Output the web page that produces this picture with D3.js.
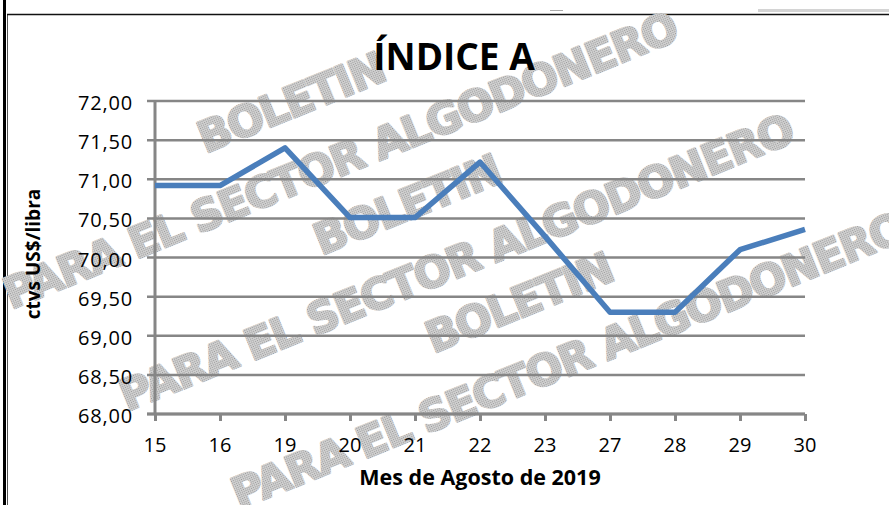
<!DOCTYPE html>
<html>
<head>
<meta charset="utf-8">
<script src="https://cdn.jsdelivr.net/npm/d3@7"></script>
<style>
  body { margin: 0; background: #fff; }
  svg { display: block; }
  text { font-family: "Open Sans", sans-serif; }
</style>
</head>
<body>
<div id="chart"></div>
<script>
// datos
const dias = ['15', '16', '19', '20', '21', '22', '23', '27', '28', '29', '30'];
const valores = [70.92, 70.92, 71.40, 70.51, 70.51, 71.22, 70.27, 69.30, 69.30, 70.10, 70.36];
const yTicks = [68, 68.5, 69, 69.5, 70, 70.5, 71, 71.5, 72];
const titulo = 'ÍNDICE A';
const tituloX = 'Mes de Agosto de 2019';
const tituloY = 'ctvs US$/libra';
const marcaAgua = ['BOLETIN', 'PARA EL SECTOR ALGODONERO'];

const width = 889, height = 505;
// "top" ya existe en window, por eso otros nombres
const plotL = 155, plotR = 805, plotT = 101, plotB = 414;

const svg = d3.select('#chart').append('svg')
    .attr('width', width)
    .attr('height', height);

// patron punteado para la marca de agua
const defs = svg.append('defs');
const pat = defs.append('pattern')
    .attr('id', 'puntos')
    .attr('width', 2).attr('height', 2)
    .attr('patternUnits', 'userSpaceOnUse');
pat.append('rect').attr('width', 2).attr('height', 2).attr('fill', '#d2d2d2');
pat.append('rect').attr('width', 1).attr('height', 1).attr('fill', '#989898');

// marco de la pagina
svg.append('line').attr('x1', 4.5).attr('x2', 4.5).attr('y1', 0).attr('y2', height)
    .attr('stroke', '#000').attr('stroke-width', 3);
svg.append('line').attr('x1', 7.5).attr('x2', 7.5).attr('y1', 14).attr('y2', height)
    .attr('stroke', '#555').attr('stroke-width', 1);
svg.append('line').attr('x1', 7).attr('x2', width).attr('y1', 14.5).attr('y2', 14.5)
    .attr('stroke', '#111').attr('stroke-width', 1.5);
svg.append('rect').attr('x', 758).attr('y', 9).attr('width', 131).attr('height', 3).attr('fill', '#d4d4d4');
svg.append('rect').attr('x', 550).attr('y', 10).attr('width', 13).attr('height', 1).attr('fill', '#aaa');

// marca de agua (tres repeticiones), letra gruesa tipo Arial Black
const anclas = [[340, 160], [456, 262], [568, 360]];
function textoAgua(g, txt, dx, dy) {
    g.append('text')
        .attr('x', dx).attr('y', dy)
        .attr('text-anchor', 'middle')
        .attr('dy', '0.36em')
        .style('font-family', 'DejaVu Sans')
        .style('font-weight', 'bold')
        .style('font-size', '43px')
        .style('letter-spacing', '-1.5px')
        .attr('fill', 'url(#puntos)')
        .attr('stroke', 'url(#puntos)')
        .attr('stroke-width', 2.4)
        .attr('stroke-linejoin', 'round')
        .text(txt);
}
anclas.forEach(a => {
    const g = svg.append('g')
        .attr('transform', `translate(${a[0]},${a[1]}) rotate(-22)`);
    textoAgua(g, marcaAgua[0], -24, -72);
    textoAgua(g, marcaAgua[1], 0, 0);
});

const x = d3.scalePoint().domain(dias).range([plotL, plotR]);
const y = d3.scaleLinear().domain([68, 72]).range([plotB, plotT]);

// lineas de division
svg.append('g')
    .selectAll('line')
    .data(yTicks)
    .enter()
    .append('line')
    .attr('x1', plotL - 8).attr('x2', plotR)
    .attr('y1', d => y(d)).attr('y2', d => y(d))
    .attr('stroke', '#868686')
    .attr('stroke-width', 2.5);

// eje y
svg.append('line').attr('x1', plotL).attr('x2', plotL).attr('y1', plotT).attr('y2', plotB)
    .attr('stroke', '#868686').attr('stroke-width', 3);

svg.append('g')
    .selectAll('text')
    .data(yTicks)
    .enter()
    .append('text')
    .attr('x', 133)
    .attr('y', d => y(d) + 9)
    .attr('text-anchor', 'end')
    .style('font-size', '20px')
    .style('letter-spacing', '0.8px')
    .attr('fill', '#000')
    .text(d => d.toFixed(2).replace('.', ','));

// eje x
const ejeX = d3.axisBottom(x).tickSize(7).tickFormat('');
const gx = svg.append('g').attr('transform', `translate(0,${plotB})`).call(ejeX);
gx.select('.domain').attr('d', `M${plotL - 8},0H${plotR}`)
    .attr('stroke', '#868686').attr('stroke-width', 3);
gx.selectAll('.tick line').attr('stroke', '#868686').attr('stroke-width', 3);

svg.append('g')
    .selectAll('text')
    .data(dias)
    .enter()
    .append('text')
    .attr('x', d => x(d))
    .attr('y', 451.5)
    .attr('text-anchor', 'middle')
    .style('font-size', '20px')
    .attr('fill', '#000')
    .text(d => d);

// serie
const linea = d3.line()
    .x((d, i) => x(dias[i]))
    .y(d => y(d));

svg.append('path')
    .datum(valores)
    .attr('d', linea)
    .attr('fill', 'none')
    .attr('stroke', '#4a7ebb')
    .attr('stroke-width', 5.5)
    .attr('stroke-linejoin', 'round');

// titulos
svg.append('text')
    .attr('x', 454).attr('y', 70)
    .attr('text-anchor', 'middle')
    .style('font-size', '37px')
    .style('font-weight', 'bold')
    .text(titulo);

svg.append('text')
    .attr('x', 480).attr('y', 485)
    .attr('text-anchor', 'middle')
    .style('font-size', '21.5px')
    .style('font-weight', 'bold')
    .text(tituloX);

svg.append('text')
    .attr('transform', 'translate(40,254) rotate(-90)')
    .attr('text-anchor', 'middle')
    .style('font-size', '19px')
    .style('font-weight', 'bold')
    .text(tituloY);
</script>
</body>
</html>
